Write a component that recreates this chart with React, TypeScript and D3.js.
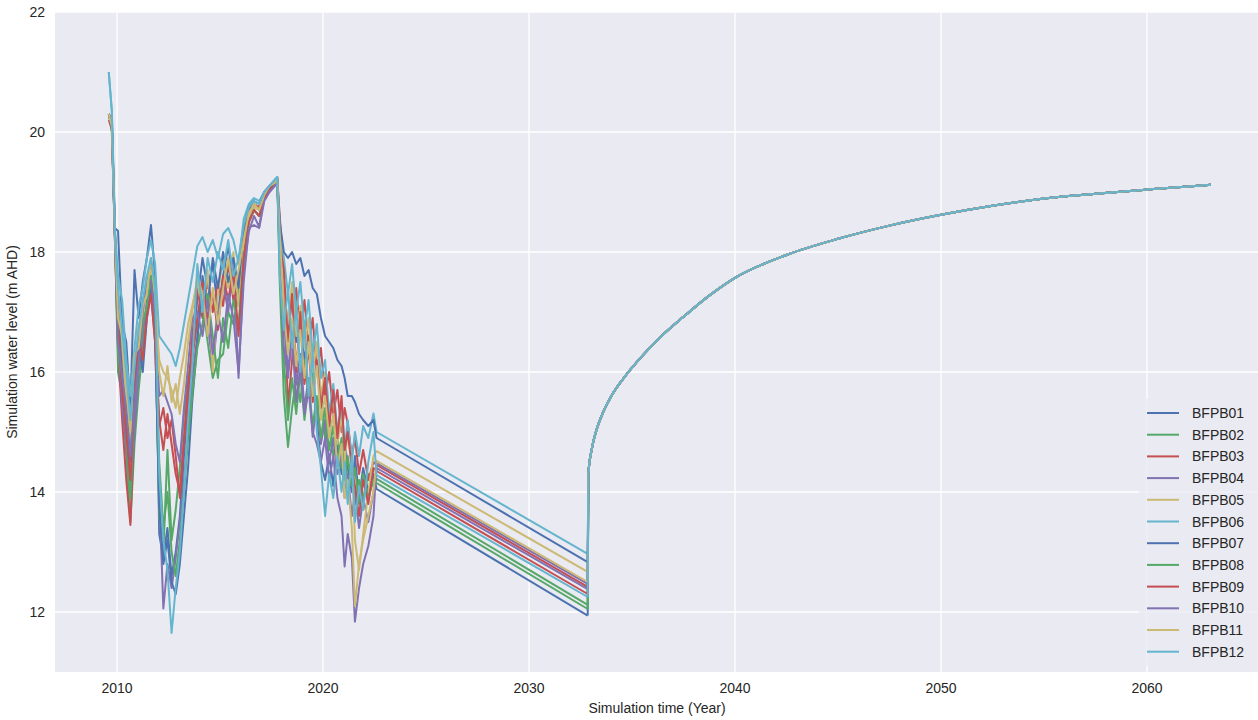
import React from "react";
import { scaleLinear, line, curveMonotoneX } from "d3";

// historical sample times (shared by all bores)
const HIST_T = [2009.6, 2009.75, 2009.9, 2010.05, 2010.25, 2010.45, 2010.65, 2010.85, 2011.05, 2011.25,
  2011.45, 2011.65, 2011.85, 2012.05, 2012.25, 2012.45, 2012.65, 2012.85, 2013.05, 2013.25,
  2013.45, 2013.65, 2013.9, 2014.15, 2014.4, 2014.65, 2014.9, 2015.15, 2015.4, 2015.65,
  2015.9, 2016.15, 2016.4, 2016.65, 2016.9, 2017.15, 2017.4, 2017.65, 2017.78, 2017.9,
  2018.1, 2018.3, 2018.5, 2018.7, 2018.9, 2019.1, 2019.3, 2019.5, 2019.7, 2019.9,
  2020.1, 2020.3, 2020.5, 2020.7, 2020.9, 2021.05, 2021.2, 2021.4, 2021.55, 2021.75,
  2021.95, 2022.2, 2022.45];

const BFPB01 = [20.3, 20.2, 18.4, 18.35, 16.8, 16.5, 15.4, 17.7, 16.9, 17.5,
  17.9, 18.45, 17.6, 13.3, 12.9, 13.4, 12.6, 13.0, 13.6, 14.6,
  15.5, 16.4, 17.2, 17.9, 17.4, 17.8, 17.0, 17.6, 18.1, 17.5,
  17.2, 18.3, 18.7, 18.8, 18.7, 18.95, 19.05, 19.15, 19.22, 18.0,
  17.2, 16.6, 17.3, 16.5, 16.9, 16.2, 16.6, 15.8, 15.2, 14.5,
  14.2, 14.6, 14.1, 14.8, 14.3, 14.9, 14.4, 14.0, 14.6, 13.9,
  14.4, 14.0, 14.3];
const BFPB02 = [20.3, 20.0, 18.3, 16.0, 15.6, 14.6, 13.5, 14.8, 15.7, 16.4,
  17.0, 17.5, 16.8, 13.6, 13.0, 14.7, 13.2, 13.7, 14.4, 15.3,
  15.9, 16.3, 16.8, 17.2, 16.5, 15.9, 16.2, 16.3, 17.0, 16.8,
  17.3, 18.0, 18.5, 18.7, 18.6, 18.9, 19.05, 19.15, 19.2, 17.5,
  15.6, 14.75, 15.4, 15.9, 15.5, 16.2, 15.6, 16.0, 15.3, 15.7,
  14.9, 15.3, 14.6, 14.9, 14.4, 14.7, 14.1, 14.4, 13.8, 14.2,
  13.9, 14.3, 14.1];
const BFPB03 = [20.2, 20.05, 18.2, 16.4, 15.2, 14.2, 13.45, 15.2, 16.3, 17.0,
  17.4, 17.8, 16.9, 15.1, 15.4, 14.9, 15.2, 14.6, 13.9, 14.8,
  15.6, 16.6, 17.4, 16.9, 17.6, 17.0, 17.5, 17.1, 17.8, 17.2,
  17.6, 18.2, 18.6, 18.8, 18.75, 18.95, 19.1, 19.15, 19.22, 18.6,
  17.6, 15.4, 16.2, 17.4, 16.6, 17.2, 16.4, 16.9, 16.0, 16.4,
  15.6, 16.0, 15.3, 15.7, 15.0, 15.4, 15.14, 14.6, 14.9, 14.3,
  14.7, 14.2, 14.5];
const BFPB04 = [20.3, 20.1, 18.3, 16.6, 15.4, 14.8, 14.0, 15.0, 16.0, 16.6,
  17.2, 17.3, 16.5, 14.0, 12.06, 12.8, 12.4, 12.9, 13.5, 14.2,
  15.0, 15.9, 16.6, 17.3, 16.8, 16.1, 16.9, 17.5, 17.0, 17.8,
  15.9, 17.7, 18.34, 18.6, 18.42, 18.9, 19.0, 19.1, 19.2, 18.2,
  16.9, 16.0, 16.7, 15.8, 16.3, 15.4, 15.9, 14.92, 15.5, 14.8,
  15.2, 14.5, 14.9, 14.3, 14.7, 13.9, 14.3, 13.6, 14.0, 13.4,
  13.9, 13.5, 14.0];
const BFPB05 = [20.3, 20.2, 18.3, 17.2, 16.3, 15.6, 14.8, 16.0, 16.8, 16.9,
  17.5, 17.7, 17.2, 16.2, 16.0, 15.9, 15.7, 15.4, 15.9, 16.3,
  16.8, 17.1, 17.5, 17.0, 17.7, 16.0, 17.3, 17.9, 17.4, 18.0,
  17.1, 18.1, 18.6, 18.75, 18.7, 18.95, 19.05, 19.15, 19.22, 18.3,
  17.4, 16.8, 17.5, 16.6, 17.1, 16.4, 16.9, 16.0, 16.5, 15.6,
  16.0, 15.2, 15.6, 14.8, 15.3, 14.5, 15.0, 14.6, 13.2, 12.7,
  13.3, 14.0, 14.6];
const BFPB06 = [21.0, 20.35, 18.4, 17.6, 17.2, 16.2, 15.6, 16.4, 17.1, 17.4,
  17.9, 18.2, 17.8, 16.6, 16.5, 16.4, 16.3, 16.1, 16.4, 16.8,
  17.2, 17.6, 18.1, 18.25, 18.0, 18.2, 17.9, 18.3, 18.4, 18.2,
  17.8, 18.55, 18.8, 18.9, 18.85, 19.0, 19.1, 19.2, 19.25, 18.4,
  17.9, 17.3, 17.8, 17.0, 17.5, 16.7, 17.2, 16.3, 16.8, 15.9,
  16.2, 15.3, 15.8, 15.0, 15.5, 14.7, 15.2, 14.5, 15.0, 14.6,
  15.1, 14.9, 15.31];
const BFPB07 = [20.3, 20.2, 18.3, 17.0, 16.0, 15.2, 14.5, 15.8, 16.5, 16.0,
  16.9, 17.4, 16.6, 13.8, 12.8, 13.2, 12.5, 12.3, 12.8, 13.6,
  14.4, 15.5, 16.5, 17.6, 17.1, 17.9, 17.4, 18.0, 17.5, 17.9,
  17.4, 18.4, 18.75, 18.85, 18.8, 19.0, 19.1, 19.18, 19.24, 18.5,
  18.0, 17.9, 18.0, 17.8, 17.9, 17.6, 17.7, 17.4, 17.3, 16.9,
  16.6, 16.5, 16.4, 16.2, 16.1, 15.9, 15.6, 15.6, 15.5, 15.3,
  15.2, 15.1, 15.2];
const BFPB08 = [20.3, 20.1, 18.2, 16.3, 15.8, 15.0, 13.9, 15.5, 16.1, 16.8,
  17.1, 17.6, 16.9, 14.5, 13.4, 14.0, 13.0, 12.6, 13.2, 14.0,
  14.9, 15.6, 16.4, 16.8, 17.3, 16.6, 15.9, 16.9, 16.4, 17.2,
  16.8, 17.9, 18.5, 18.7, 18.6, 18.9, 19.05, 19.12, 19.2, 17.8,
  16.2, 15.2, 15.9, 15.3, 16.0, 15.2, 15.8, 15.1, 15.6, 14.9,
  15.4, 14.7, 15.1, 14.5, 14.9, 14.2, 14.6, 14.1, 14.4, 13.8,
  14.3, 13.9, 14.2];
const BFPB09 = [20.3, 20.1, 18.3, 16.8, 15.7, 15.0, 14.2, 15.6, 16.6, 16.2,
  16.9, 17.3, 16.5, 15.2, 14.7, 15.3, 14.8, 14.3, 14.0, 14.9,
  15.8, 16.2, 16.9, 17.5, 16.9, 17.3, 16.7, 17.6, 17.2, 17.7,
  16.6, 17.9, 18.5, 18.7, 18.6, 18.9, 19.05, 19.12, 19.2, 18.1,
  17.7, 16.5, 17.3, 16.0, 17.0, 15.8, 16.4, 15.5, 16.2, 15.4,
  15.9, 15.1, 15.7, 14.9, 15.6, 14.7, 15.0, 14.4, 14.1, 13.6,
  14.2, 13.8, 14.4];
const BFPB10 = [20.3, 20.1, 18.2, 16.5, 15.9, 15.4, 14.6, 15.5, 16.2, 17.0,
  17.6, 17.5, 17.0, 15.6, 15.7, 15.5, 15.3, 14.8, 14.5, 15.4,
  16.1, 16.9, 17.0, 16.6, 17.2, 16.3, 17.0, 16.5, 17.3, 16.9,
  16.0, 17.5, 18.4, 18.45, 18.4, 18.85, 19.0, 19.1, 19.2, 17.9,
  16.4, 15.9, 16.6, 15.5, 16.1, 15.3, 15.7, 15.0, 14.8, 14.5,
  14.9, 14.2, 14.6, 13.9, 13.6, 12.76, 13.3, 12.9, 11.84, 12.4,
  12.8, 13.1, 13.6];
const BFPB11 = [20.3, 20.1, 18.3, 16.9, 16.6, 15.8, 15.0, 16.3, 16.4, 17.1,
  17.3, 17.9, 17.3, 16.0, 15.6, 16.1, 15.5, 15.8, 15.3, 15.8,
  16.5, 17.0, 17.6, 17.3, 16.6, 17.4, 16.8, 17.4, 17.9, 17.3,
  17.7, 18.2, 18.65, 18.8, 18.7, 18.95, 19.1, 19.15, 19.22, 18.3,
  17.0, 16.3, 16.9, 16.1, 16.7, 15.9, 16.5, 15.6, 16.1, 15.2,
  15.6, 14.9, 15.3, 14.4, 14.8, 13.9, 14.2, 13.4, 12.1, 12.8,
  13.2, 13.6, 14.0];
const BFPB12 = [21.0, 20.35, 18.35, 17.4, 16.7, 16.0, 15.2, 16.1, 16.7, 17.2,
  17.6, 17.9, 17.4, 14.3, 13.2, 12.7, 11.65, 12.4, 13.0, 14.0,
  15.2, 16.1, 17.8, 17.0, 17.9, 17.5, 18.0, 17.7, 18.2, 17.6,
  17.9, 18.45, 18.75, 18.85, 18.8, 19.0, 19.1, 19.2, 19.25, 17.6,
  16.7, 17.4, 16.4, 17.1, 16.0, 16.8, 15.6, 16.3, 15.0, 14.4,
  13.6, 14.3, 13.9, 14.6, 14.0, 14.5, 13.8, 14.6, 13.5, 14.1,
  13.7, 14.5, 15.0];

// linear decline phase
const DECLINE_T = [2022.6, 2032.85];
const DECLINE_START = [14.05, 14.22, 14.45, 14.4, 14.68, 15.0, 14.9, 14.15, 14.35, 14.48, 14.52, 14.28];
const DECLINE_END = [11.94, 12.12, 12.42, 12.38, 12.67, 12.97, 12.83, 12.05, 12.3, 12.47, 12.5, 12.25];

// recovery phase (curves overlap for all bores)
const REC_T = [2032.88, 2033.05, 2033.3, 2033.6, 2034.0, 2034.6, 2035.5, 2036.5, 2037.5, 2038.7,
  2040, 2042.5, 2045, 2047.5, 2050, 2052.5, 2055, 2057.5, 2060, 2063.1];
const REC_V = [14.3, 14.72, 15.06, 15.33, 15.6, 15.9, 16.27, 16.62, 16.92, 17.26,
  17.57, 17.95, 18.22, 18.44, 18.62, 18.77, 18.89, 18.97, 19.04, 19.12];

const NAMES = ["BFPB01", "BFPB02", "BFPB03", "BFPB04", "BFPB05", "BFPB06",
  "BFPB07", "BFPB08", "BFPB09", "BFPB10", "BFPB11", "BFPB12"];
const HIST = [BFPB01, BFPB02, BFPB03, BFPB04, BFPB05, BFPB06, BFPB07, BFPB08, BFPB09, BFPB10, BFPB11, BFPB12];
const PALETTE = ["#4C72B0", "#55A868", "#C44E52", "#8172B2", "#CCB974", "#64B5CD"];

const X_TICKS = [2010, 2020, 2030, 2040, 2050, 2060];
const Y_TICKS = [12, 14, 16, 18, 20, 22];

const W = 1258, H = 720;
const left = 55, top = 12, right = 1258, bottom = 672;
const FONT = "'Liberation Sans', Arial, sans-serif";

export default function App() {
  const x = scaleLinear().domain([2010, 2060]).range([117, 1147]);
  const y = scaleLinear().domain([11, 22]).range([bottom, top]);
  const path = line<[number, number]>().x(d => x(d[0])).y(d => y(d[1]));
  const smooth = line<[number, number]>().x(d => x(d[0])).y(d => y(d[1])).curve(curveMonotoneX);

  const series = NAMES.map((name, i) => {
    const pts: [number, number][] = HIST[i].map((v, j) => [HIST_T[j], v] as [number, number]);
    pts.push([DECLINE_T[0], DECLINE_START[i]]);
    pts.push([DECLINE_T[1], DECLINE_END[i]]);
    const rec: [number, number][] = [[DECLINE_T[1], DECLINE_END[i]]];
    REC_T.forEach((t, j) => rec.push([t, REC_V[j]]));
    return {
      name,
      color: PALETTE[i % PALETTE.length],
      d: (path(pts) || "") + (smooth(rec) || ""),
    };
  });

  const legX = 1147, legY = 413, legStep = 21.7;

  return (
    <div style={{ position: "absolute", left: 0, top: 0, width: W, height: H, background: "#fff" }}>
      <svg width={W} height={H} style={{ display: "block" }} fontFamily={FONT}>
        <defs>
          <clipPath id="plot">
            <rect x={left} y={top} width={right - left} height={bottom - top} />
          </clipPath>
        </defs>
        <rect x={left} y={top} width={right - left} height={bottom - top} fill="#EAEAF2" />
        {/* grid */}
        {X_TICKS.map(t => (
          <line key={"gx" + t} x1={x(t)} x2={x(t)} y1={top} y2={bottom} stroke="#fff" strokeWidth={1.3} />
        ))}
        {Y_TICKS.map(t => (
          <line key={"gy" + t} x1={left} x2={right} y1={y(t)} y2={y(t)} stroke="#fff" strokeWidth={1.3} />
        ))}
        <g clipPath="url(#plot)">
          {series.map(s => (
            <path key={s.name} d={s.d} fill="none" stroke={s.color} strokeWidth={2} strokeLinejoin="round" />
          ))}
        </g>
        {/* tick labels */}
        {X_TICKS.map(t => (
          <text key={"tx" + t} x={x(t)} y={693} textAnchor="middle" fontSize={14} fill="#262626">{t}</text>
        ))}
        {Y_TICKS.map(t => (
          <text key={"ty" + t} x={45} y={y(t) + 5} textAnchor="end" fontSize={14} fill="#262626">{t}</text>
        ))}
        <text x={657} y={713} textAnchor="middle" fontSize={14} fill="#262626">Simulation time (Year)</text>
        <text transform={`translate(17,${(top + bottom) / 2}) rotate(-90)`} textAnchor="middle" fontSize={14} fill="#262626">
          Simulation water level (m AHD)
        </text>
        {/* legend */}
        <rect x={1139} y={legY - 14} width={130} height={legStep * 11 + 28} fill="#EAEAF2" fillOpacity={0.8} rx={3} />
        {series.map((s, i) => (
          <g key={"lg" + s.name} transform={`translate(0,${legY + i * legStep})`}>
            <line x1={legX} x2={legX + 32} y1={0} y2={0} stroke={s.color} strokeWidth={2} />
            <text x={1192} y={5} fontSize={14} fill="#262626">{s.name}</text>
          </g>
        ))}
      </svg>
    </div>
  );
}
